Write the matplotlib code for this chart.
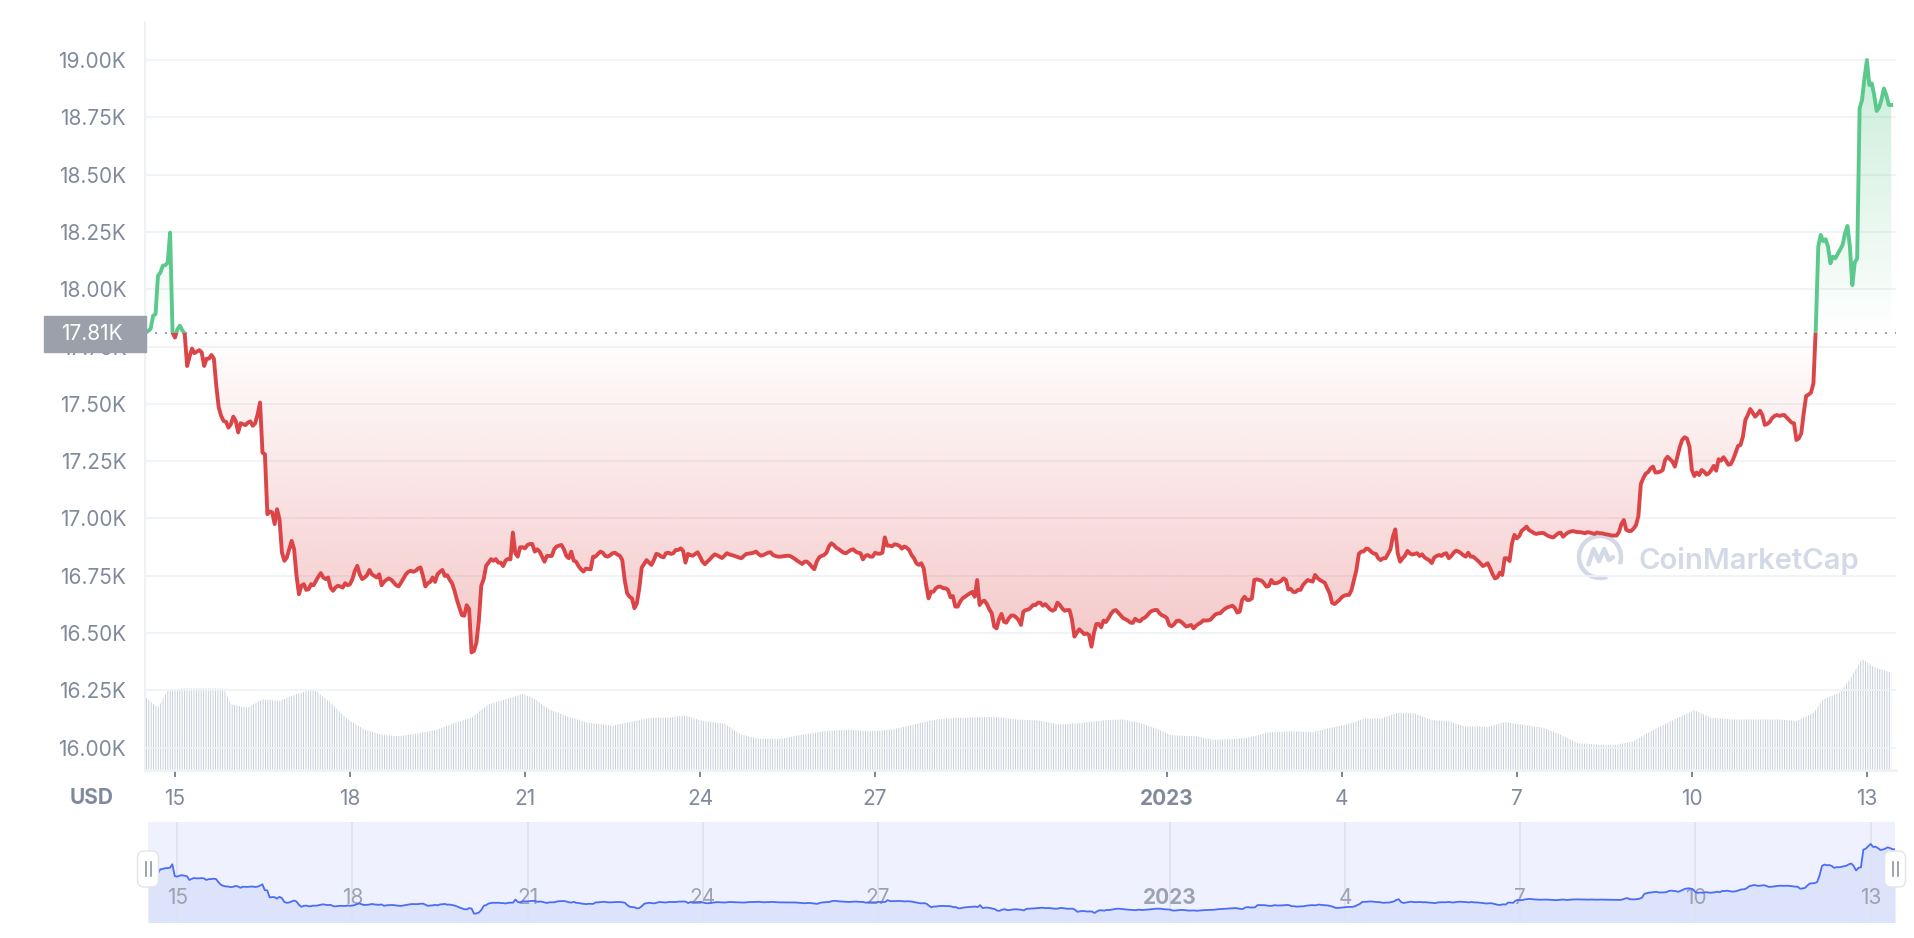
import numpy as np
import pandas as pd
import matplotlib
matplotlib.use('Agg')
import matplotlib.pyplot as plt
import matplotlib.dates as mdates
from matplotlib.colors import to_rgb
from matplotlib.patches import Rectangle, FancyBboxPatch, Arc
from matplotlib.ticker import FuncFormatter

plt.rcParams['font.family'] = ['Inter', 'DejaVu Sans']
plt.rcParams['hatch.linewidth'] = 0.6
plt.rcParams['hatch.color'] = '#bfc7d6'

# hourly BTC price (USD), starting 2022-12-14 12:00
start = pd.Timestamp('2022-12-14 12:00')
price = [
    17812, 17818, 17828, 17884, 17891, 18058, 18073, 18102, 18105, 18116,
    18247, 17811, 17789, 17825, 17841, 17821, 17806, 17665, 17706, 17741,
    17721, 17728, 17734, 17724, 17665, 17697, 17697, 17713, 17697, 17578,
    17484, 17447, 17425, 17421, 17396, 17411, 17444, 17425, 17375, 17415,
    17411, 17407, 17418, 17423, 17404, 17415, 17454, 17505, 17287, 17280,
    17018, 17030, 17026, 16975, 17040, 16996, 16851, 16815, 16829, 16866,
    16902, 16866, 16749, 16669, 16706, 16713, 16688, 16691, 16713, 16708,
    16727, 16746, 16761, 16742, 16735, 16742, 16698, 16684, 16698, 16706,
    16703, 16698, 16717, 16708, 16713, 16735, 16771, 16793, 16756, 16735,
    16742, 16752, 16775, 16756, 16749, 16742, 16756, 16708, 16723, 16732,
    16738, 16732, 16720, 16708, 16703, 16720, 16738, 16756, 16767, 16771,
    16767, 16771, 16781, 16786, 16749, 16703, 16717, 16723, 16742, 16723,
    16756, 16767, 16775, 16749, 16752, 16732, 16717, 16684, 16644, 16611,
    16578, 16575, 16621, 16604, 16415, 16422, 16458, 16553, 16706, 16735,
    16793, 16807, 16822, 16815, 16822, 16807, 16807, 16792, 16816, 16823,
    16821, 16938, 16848, 16833, 16874, 16874, 16869, 16884, 16888, 16888,
    16855, 16865, 16855, 16833, 16811, 16836, 16836, 16836, 16865, 16877,
    16881, 16884, 16865, 16836, 16826, 16855, 16816, 16811, 16792, 16778,
    16768, 16781, 16779, 16778, 16833, 16833, 16845, 16855, 16850, 16836,
    16833, 16839, 16848, 16850, 16842, 16837, 16818, 16731, 16673, 16658,
    16651, 16608, 16629, 16695, 16785, 16801, 16818, 16807, 16797, 16818,
    16845, 16842, 16833, 16830, 16848, 16850, 16845, 16848, 16862, 16862,
    16869, 16859, 16807, 16845, 16840, 16837, 16845, 16852, 16833, 16811,
    16800, 16811, 16821, 16833, 16843, 16839, 16833, 16827, 16836, 16848,
    16843, 16840, 16837, 16833, 16829, 16826, 16836, 16845, 16846, 16848,
    16850, 16855, 16845, 16837, 16840, 16845, 16850, 16852, 16840, 16836,
    16833, 16833, 16834, 16836, 16837, 16836, 16830, 16823, 16815, 16808,
    16801, 16811, 16811, 16801, 16789, 16778, 16811, 16830, 16836, 16840,
    16850, 16877, 16891, 16884, 16872, 16866, 16858, 16850, 16848, 16855,
    16862, 16865, 16855, 16850, 16848, 16821, 16836, 16840, 16833, 16833,
    16850, 16846, 16846, 16850, 16917, 16881, 16881, 16878, 16887, 16885,
    16880, 16868, 16877, 16872, 16862, 16840, 16826, 16804, 16797, 16804,
    16782, 16709, 16651, 16680, 16680, 16695, 16702, 16702, 16695, 16695,
    16688, 16656, 16661, 16615, 16615, 16637, 16651, 16658, 16666, 16673,
    16679, 16658, 16731, 16622, 16637, 16641, 16626, 16603, 16586, 16528,
    16520, 16560, 16583, 16549, 16545, 16564, 16576, 16576, 16568, 16557,
    16535, 16593, 16600, 16602, 16610, 16622, 16622, 16632, 16632, 16619,
    16626, 16615, 16603, 16597, 16603, 16632, 16622, 16607, 16597, 16600,
    16600, 16557, 16484, 16501, 16516, 16506, 16495, 16498, 16491, 16440,
    16498, 16539, 16539, 16525, 16554, 16548, 16564, 16583, 16596, 16600,
    16589, 16577, 16565, 16560, 16554, 16545, 16544, 16562, 16554, 16551,
    16562, 16567, 16577, 16590, 16597, 16600, 16600, 16586, 16577, 16573,
    16565, 16535, 16529, 16538, 16552, 16554, 16548, 16538, 16528, 16531,
    16535, 16520, 16531, 16539, 16545, 16555, 16554, 16555, 16558, 16570,
    16581, 16585, 16586, 16597, 16606, 16612, 16615, 16619, 16609, 16589,
    16593, 16644, 16658, 16644, 16644, 16651, 16731, 16734, 16731, 16728,
    16717, 16702, 16705, 16731, 16717, 16717, 16721, 16727, 16738, 16731,
    16690, 16692, 16679, 16679, 16688, 16688, 16709, 16721, 16731, 16727,
    16724, 16753, 16740, 16731, 16725, 16719, 16695, 16673, 16632, 16626,
    16635, 16644, 16656, 16663, 16666, 16666, 16688, 16731, 16775, 16845,
    16855, 16856, 16868, 16866, 16855, 16847, 16845, 16826, 16818, 16826,
    16826, 16845, 16865, 16920, 16952, 16847, 16811, 16826, 16837, 16858,
    16847, 16842, 16845, 16848, 16836, 16843, 16830, 16823, 16817, 16805,
    16829, 16836, 16840, 16836, 16845, 16848, 16826, 16836, 16850, 16859,
    16855, 16848, 16839, 16833, 16850, 16833, 16833, 16824, 16815, 16804,
    16792, 16797, 16804, 16782, 16757, 16738, 16743, 16763, 16753, 16826,
    16826, 16814, 16891, 16928, 16913, 16923, 16946, 16954, 16964, 16949,
    16943, 16936, 16932, 16935, 16936, 16936, 16929, 16923, 16919, 16917,
    16926, 16935, 16938, 16920, 16930, 16938, 16942, 16945, 16942, 16940,
    16940, 16938, 16935, 16940, 16938, 16935, 16932, 16938, 16935, 16935,
    16932, 16930, 16928, 16925, 16925, 16925, 16940, 16975, 16993, 16950,
    16945, 16945, 16955, 16970, 17010, 17150, 17175, 17195, 17202, 17218,
    17226, 17200, 17201, 17204, 17211, 17255, 17269, 17258, 17248, 17226,
    17269, 17310, 17342, 17354, 17348, 17313, 17211, 17185, 17200, 17189,
    17211, 17204, 17191, 17197, 17211, 17229, 17208, 17258, 17252, 17267,
    17252, 17234, 17237, 17258, 17287, 17316, 17320, 17357, 17429, 17451,
    17477, 17461, 17444, 17455, 17470, 17451, 17408, 17412, 17421, 17437,
    17447, 17451, 17447, 17450, 17451, 17440, 17429, 17418, 17415, 17342,
    17349, 17371, 17458, 17534, 17540, 17549, 17589, 17837, 18186, 18237,
    18210, 18218, 18186, 18113, 18142, 18135, 18154, 18174, 18193, 18244,
    18276, 18186, 18018, 18116, 18135, 18789, 18826, 18920, 19000, 18891,
    18898, 18847, 18778, 18792, 18828, 18876, 18847, 18804, 18804,
]
times = pd.date_range(start, periods=len(price), freq='h')
baseline = 17810

# 24h volume (billion USD) read at hours after start
vol_hours = [0, 5, 9, 16, 32, 35, 42, 48, 55, 62, 69, 76, 83, 90, 97, 104, 113,
             120, 127, 134, 141, 148, 155, 159, 166, 173, 182, 192, 201, 208, 215,
             222, 229, 238, 245, 252, 261, 270, 279, 289, 298, 307, 316, 325, 335,
             349, 358, 367, 376, 385, 395, 402, 409, 416, 422, 432, 439, 448, 455,
             462, 471, 480, 487, 494, 501, 508, 515, 522, 529, 536, 542, 552, 559,
             566, 575, 582, 589, 598, 605, 612, 619, 626, 633, 637, 644, 653, 663,
             672, 679, 686, 690, 697, 702, 706, 711, 718]
vol_values = [21.5, 18.5, 23.5, 24.2, 24.2, 19.5, 18.5, 21.0, 20.5, 22.5, 24.0,
              20.0, 15.0, 12.0, 10.5, 10.0, 11.0, 12.0, 14.0, 15.5, 19.5, 21.0,
              22.5, 21.5, 18.0, 16.0, 14.0, 13.2, 14.5, 15.5, 15.5, 16.2, 14.5,
              13.8, 10.5, 9.3, 9.2, 10.5, 11.5, 12.0, 11.5, 12.0, 13.5, 15.0, 15.5,
              15.8, 15.0, 14.7, 13.5, 14.0, 14.8, 15.0, 14.0, 12.2, 10.3, 10.0, 9.0,
              9.2, 9.8, 11.2, 11.5, 11.2, 12.5, 13.5, 15.2, 15.3, 17.0, 16.8, 14.8,
              14.5, 13.0, 12.8, 14.2, 13.5, 12.5, 10.5, 8.0, 7.5, 7.5, 8.5, 11.5,
              14.0, 16.5, 17.7, 15.5, 15.0, 15.0, 15.0, 14.5, 17.0, 21.0, 23.0,
              28.0, 33.0, 30.5, 29.0]
vol_times = start + pd.to_timedelta(vol_hours, unit='h')

tick_days = pd.to_datetime(['2022-12-15', '2022-12-18', '2022-12-21', '2022-12-24',
                            '2022-12-27', '2023-01-01', '2023-01-04', '2023-01-07',
                            '2023-01-10', '2023-01-13'])
tick_labels = ['15', '18', '21', '24', '27', '2023', '4', '7', '10', '13']

red = '#dc4548'
green = '#5bc98c'
grey = '#808a9d'

W, H = 1914, 938
fig = plt.figure(figsize=(W / 100, H / 100), dpi=100)
fig.patch.set_facecolor('white')


def rect(x0, y0, x1, y1):
    return [x0 / W, 1 - y1 / H, (x1 - x0) / W, (y1 - y0) / H]


# watermark layer (behind everything)
bg = fig.add_axes([0, 0, 1, 1], zorder=0)
bg.set_xlim(0, W)
bg.set_ylim(H, 0)
bg.axis('off')
wm = '#d3d9e6'
bg.add_patch(Arc((1600, 557), 42, 42, theta1=70, theta2=380, lw=3.2, color=wm))
mx = np.array([-0.55, -0.3, -0.05, 0.2, 0.42, 0.62])
my = np.array([-0.35, 0.38, -0.2, 0.38, -0.15, 0.0])
bg.plot(1600 + mx * 21, 557 - my * 21, color=wm, lw=3.2, solid_joinstyle='round',
        solid_capstyle='round')
bg.text(1639, 561, 'CoinMarketCap', fontsize=21, fontweight='semibold', color=wm,
        ha='left', va='center')

# main price axes + volume axes behind it
ax = fig.add_axes(rect(145, 22, 1896, 770), zorder=2)
ax.patch.set_visible(False)
vax = fig.add_axes(rect(145, 22, 1896, 770), zorder=1, sharex=ax)
vax.patch.set_visible(False)
vax.axis('off')

vax.fill_between(vol_times, vol_values, 0, facecolor='none', edgecolor='#bfc7d6',
                 hatch='|' * 7, linewidth=0)
vax.set_ylim(0, 222)

p = np.array(price, dtype=float)
x0n, x1n = mdates.date2num(times[0]), mdates.date2num(times[-1])

red_poly = ax.fill_between(times, np.minimum(p, baseline), baseline,
                           facecolor='none', edgecolor='none')
green_poly = ax.fill_between(times, np.maximum(p, baseline), baseline,
                             facecolor='none', edgecolor='none')

g = np.linspace(0, 1, 256)[:, None]
rimg = np.zeros((256, 1, 4))
rimg[..., :3] = to_rgb(red)
rimg[..., 3] = 0.30 * g
im_r = ax.imshow(rimg, extent=[x0n, x1n, p.min(), baseline], aspect='auto',
                 origin='upper', zorder=1, interpolation='bilinear')
im_r.set_clip_path(red_poly.get_paths()[0], transform=ax.transData)

gimg = np.zeros((256, 1, 4))
gimg[..., :3] = to_rgb(green)
gimg[..., 3] = 0.33 * (1 - g)
im_g = ax.imshow(gimg, extent=[x0n, x1n, baseline, p.max()], aspect='auto',
                 origin='upper', zorder=1, interpolation='bilinear')
im_g.set_clip_path(green_poly.get_paths()[0], transform=ax.transData)

ax.axhline(baseline, color='#9aa0aa', lw=1.44, ls=(0, (1, 4)), zorder=3)

ln_g, = ax.plot(times, p, color=green, lw=2.8, zorder=4, solid_joinstyle='round')
ln_g.set_clip_path(Rectangle((x0n - 10, baseline), 1000, 1e5, transform=ax.transData))
ln_r, = ax.plot(times, p, color=red, lw=2.8, zorder=4, solid_joinstyle='round')
ln_r.set_clip_path(Rectangle((x0n - 10, baseline - 1e5), 1000, 1e5,
                             transform=ax.transData))

ax.set_xlim(start - pd.Timedelta(hours=0.33), start + pd.Timedelta(hours=719.97))
ax.set_ylim(15902, 19166)

ax.set_yticks(np.arange(16000, 19001, 250))
ax.yaxis.set_major_formatter(FuncFormatter(lambda v, pos: f'{v / 1000:.2f}K'))
ax.yaxis.grid(True, color='#eff2f5', lw=1.2)
ax.set_axisbelow(True)
ax.tick_params(axis='y', length=0, pad=13.5, labelsize=15, labelcolor=grey)

ax.set_xticks(tick_days)
ax.set_xticklabels(tick_labels)
ax.tick_params(axis='x', length=5, width=1.4, color='#7d8596', pad=8.5,
               labelsize=15, labelcolor=grey)
for lab in ax.get_xticklabels():
    if lab.get_text() == '2023':
        lab.set_fontweight('bold')

for s in ('top', 'right'):
    ax.spines[s].set_visible(False)
ax.spines['left'].set_color('#eff2f5')
ax.spines['left'].set_linewidth(1.5)
ax.spines['bottom'].set_color('#eff2f5')
ax.spines['bottom'].set_linewidth(2.0)

fig.text(92 / W, 1 - 798 / H, 'USD', ha='center', va='center', fontsize=15,
         fontweight='bold', color=grey)

# navigator
nav = fig.add_axes(rect(148, 822, 1895, 921.6), zorder=2)
nav.set_facecolor('#eff2fe')
nav.fill_between(times, p, 0, color='#dde3fb', lw=0)
for d, lab in zip(tick_days, tick_labels):
    nav.axvline(d, color='#dde2ef', lw=1.2, zorder=1)
    nav.text(d, 0.237, lab, transform=nav.get_xaxis_transform(), ha='center',
             va='center', fontsize=15, color='#9ba2b3',
             fontweight='bold' if lab == '2023' else 'normal', zorder=2)
nav.plot(times, p, color='#4a6cf7', lw=1.3, zorder=3)
nav.set_xlim(times[0], times[-1])
nav.set_ylim(16120, 19816)
nav.set_xticks([])
nav.set_yticks([])
for s in nav.spines.values():
    s.set_visible(False)

# overlay: current price label, navigator handles
top = fig.add_axes([0, 0, 1, 1], zorder=5)
top.set_xlim(0, W)
top.set_ylim(H, 0)
top.axis('off')
top.patch.set_visible(False)
top.add_patch(Rectangle((44, 316), 102, 36, color='#9ba0aa'))
top.text(92, 334.5, f'{baseline / 1000:.2f}K', color='white', ha='center',
         va='center', fontsize=15)
for hx in (148, 1895):
    top.add_patch(FancyBboxPatch((hx - 10.5, 851), 21, 36,
                                 boxstyle='round,pad=0,rounding_size=7',
                                 fc='white', ec='#e1e4ea', lw=1))
    for dx in (-2.5, 2.5):
        top.plot([hx + dx, hx + dx], [862, 876], color='#8f96a3', lw=1.2)

fig.savefig('out.png', dpi=100, facecolor='white')
